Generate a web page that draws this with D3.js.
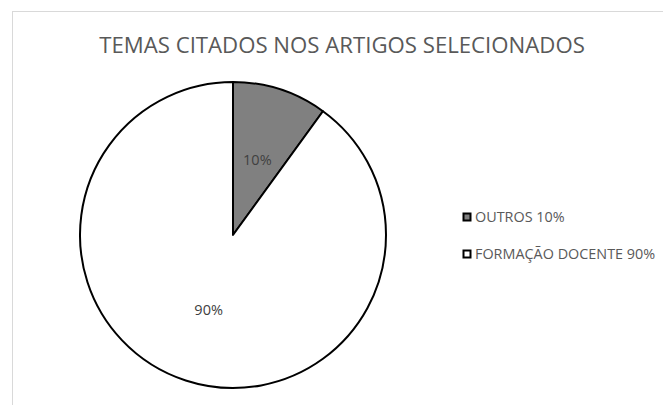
<!DOCTYPE html>
<html><head><meta charset="utf-8">
<script src="https://cdn.jsdelivr.net/npm/d3@7"></script>
<style>html,body{margin:0;padding:0;background:#fff;}svg{display:block;}</style>
</head><body>
<script>
const title = "TEMAS CITADOS NOS ARTIGOS SELECIONADOS";
const categories = ["OUTROS", "FORMAÇÃO DOCENTE"];
const values = [10, 90];
const colors = ["#808080", "#ffffff"];

const W = 663, H = 405;
const svg = d3.select("body").append("svg").attr("width", W).attr("height", H);

// chart area border
svg.append("rect").attr("x", 12.5).attr("y", 11.5).attr("width", 700).attr("height", 420)
  .attr("fill", "#fff").attr("stroke", "#d9d9d9").attr("stroke-width", 1);

svg.append("text").attr("x", 342).attr("y", 53).attr("text-anchor", "middle")
  .attr("font-family", "'Open Sans', sans-serif").attr("font-size", 22.2)
  .attr("fill", "#595959").text(title);

const cx = 233, cy = 235, r = 153;
const total = d3.sum(values);
const pie = d3.pie().sort(null).value(d => d)(values);
const arc = d3.arc().innerRadius(0).outerRadius(r);
const labelArc = d3.arc().innerRadius(r * 0.515).outerRadius(r * 0.515);
const g = svg.append("g").attr("transform", `translate(${cx},${cy})`);
g.selectAll("path").data(pie).join("path")
  .attr("d", arc).attr("fill", (d, i) => colors[i])
  .attr("stroke", "#000").attr("stroke-width", 2).attr("stroke-linejoin", "round");
g.selectAll("text").data(pie).join("text")
  .attr("transform", d => `translate(${labelArc.centroid(d)})`)
  .attr("text-anchor", "middle").attr("dy", "0.35em")
  .attr("font-family", "'Open Sans', sans-serif").attr("font-size", 14.5)
  .attr("fill", "#404040")
  .text(d => Math.round(d.data / total * 100) + "%");

const leg = svg.append("g");
categories.forEach((c, i) => {
  const y = 217 + i * 37;
  leg.append("rect").attr("x", 463.5).attr("y", y - 3.5).attr("width", 7).attr("height", 7)
    .attr("fill", colors[i]).attr("stroke", "#000").attr("stroke-width", 2);
  leg.append("text").attr("x", 475).attr("y", y).attr("dy", "0.35em")
    .attr("font-family", "'Open Sans', sans-serif").attr("font-size", 14.4)
    .attr("fill", "#595959").text(c + " " + values[i] + "%");
});
</script>
</body></html>
